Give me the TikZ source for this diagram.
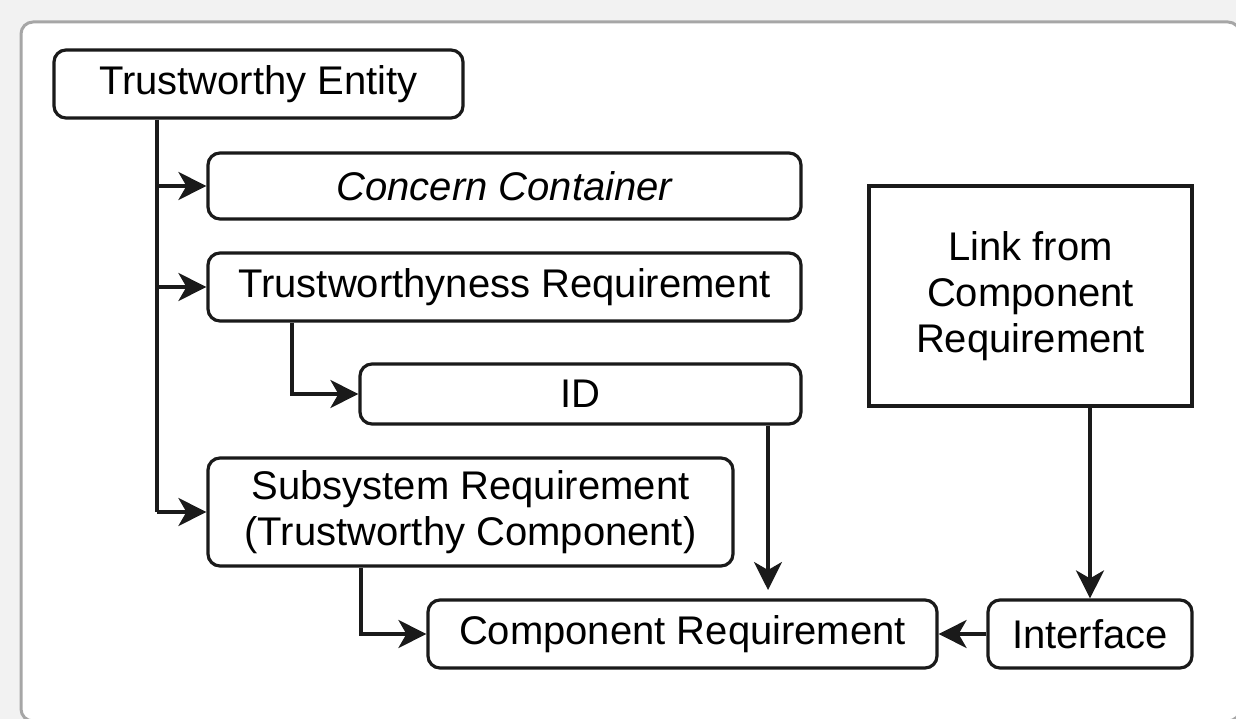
\documentclass[tikz,border=0pt]{standalone}
\usepackage{fontspec}
\setmainfont{Liberation Sans}
\usetikzlibrary{arrows.meta}
\definecolor{pagebg}{HTML}{F2F2F2}
\definecolor{panelline}{HTML}{A6A6A6}
\definecolor{ink}{HTML}{1A1A1A}
\begin{document}
\begin{tikzpicture}[x=1pt,y=-1pt,
  box/.style={draw=ink,line width=3.2pt,rounded corners=12pt,fill=white,inner sep=0pt,
    font=\fontsize{40}{46}\selectfont,align=center},
  sqbox/.style={box,rounded corners=0pt},
  link/.style={draw=ink,line width=3.2pt,-{Stealth[length=28pt,width=28pt,inset=8pt]}},
]
% page background and white panel
\useasboundingbox (0,0) rectangle (1236,719);
\fill[pagebg] (0,0) rectangle (1236,719);
\begin{scope}
\clip (0,0) rectangle (1236,719);
\draw[panelline,line width=3pt,fill=white,rounded corners=12pt] (21,22) rectangle (1240,721);
\end{scope}

% boxes
\node[box,minimum width=409pt,minimum height=68pt] (te) at (258.5,84) {Trustworthy Entity};
\node[box,minimum width=593pt,minimum height=66pt] (cc) at (504.5,186) {\itshape Concern Container};
\node[box,minimum width=593pt,minimum height=68pt] (tr) at (504.5,287) {Trustworthyness Requirement};
\node[box,minimum width=441pt,minimum height=60pt] (id) at (580.5,394) {ID};
\node[box,minimum width=525pt,minimum height=108pt] (ss) at (470.5,512) {Subsystem Requirement\\(Trustworthy Component)};
\node[box,minimum width=509pt,minimum height=68pt] (cr) at (682.5,634) {Component Requirement};
\node[box,minimum width=204pt,minimum height=68pt] (if) at (1090,634) {Interface};
\node[sqbox,minimum width=323pt,minimum height=220pt] (lk) at (1030.5,296) {Link from\\Component\\Requirement};

% connectors
\coordinate (trunk) at (157,0);
\draw[draw=ink,line width=3.2pt] (te.south -| trunk) -- (trunk |- ss.west);
\draw[link] (trunk |- cc.west) -- (cc.west);
\draw[link] (trunk |- tr.west) -- (tr.west);
\draw[link] (trunk |- ss.west) -- (ss.west);

\coordinate (trdrop) at (292,0);
\draw[link] (trdrop |- tr.south) -- (trdrop |- id.west) -- (id.west);

\coordinate (ssdrop) at (361,0);
\draw[link] (ssdrop |- ss.south) -- (ssdrop |- cr.west) -- (cr.west);

\coordinate (idend) at (768,590);
\draw[link] (idend |- id.south) -- (idend);

\draw[link] (if.north |- lk.south) -- (if.north);
\draw[link] (if.west) -- (cr.east);
\end{tikzpicture}
\end{document}
